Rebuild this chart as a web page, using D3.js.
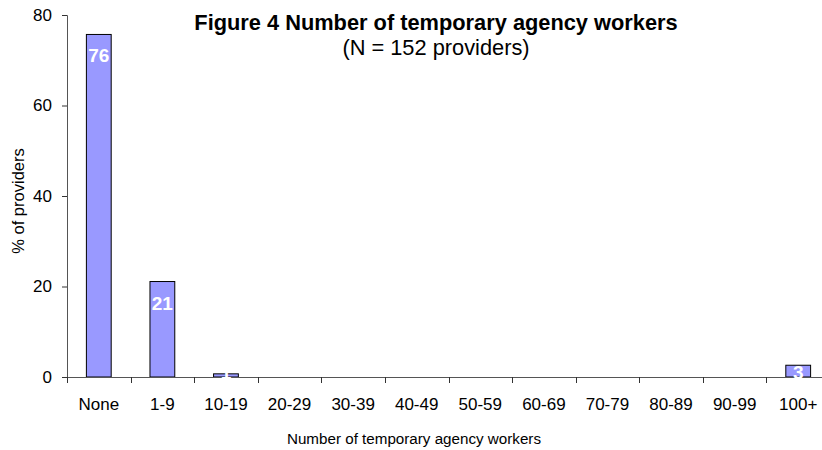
<!DOCTYPE html>
<html><head><meta charset="utf-8">
<script src="https://cdn.jsdelivr.net/npm/d3@7"></script>
<style>body{margin:0;background:#fff}svg{display:block;font-family:"Liberation Sans",Arial,sans-serif}</style>
</head><body><svg id="c" width="822" height="450"></svg>
<script>
const categories = ["None","1-9","10-19","20-29","30-39","40-49","50-59","60-69","70-79","80-89","90-99","100+"];
const values = [75.7, 21.1, 0.7, 0, 0, 0, 0, 0, 0, 0, 0, 2.6];
const labels = ["76","21","1","","","","","","","","","3"];
const yTicks = [0,20,40,60,80];

const svg = d3.select("#c");
const x = d3.scaleBand().domain(categories).range([67, 830]).paddingInner(0.61).paddingOuter(0.305);
const y = d3.scaleLinear().domain([0,80]).range([377,15]);

// bars
svg.append("g").selectAll("rect").data(values).join("rect")
  .attr("x",(d,i)=>x(categories[i]))
  .attr("width",x.bandwidth())
  .attr("y",d=>y(d))
  .attr("height",d=>y(0)-y(d))
  .attr("fill", d=> d>0 ? "#9999FF" : "none")
  .attr("stroke", d=> d>0 ? "#000" : "none")
  .attr("stroke-width",1);

// y axis
const ya = svg.append("g").attr("transform","translate(67,0)")
  .call(d3.axisLeft(y).tickValues(yTicks).tickSize(5).tickPadding(10).tickFormat(d3.format("d")));
ya.select(".domain").attr("stroke","#555");
ya.selectAll(".tick line").attr("stroke","#333");
ya.selectAll("text").attr("font-size",17).attr("fill","#000").attr("font-family","Liberation Sans, Arial, sans-serif");

// x axis: ticks at band boundaries
const step = x.step();
const bounds = categories.map((c,i)=>67 + i*step);
const xa = svg.append("g");
xa.append("line").attr("x1",67).attr("x2",830).attr("y1",377.5).attr("y2",377.5).attr("stroke","#555");
xa.selectAll("line.t").data(bounds).join("line").attr("class","t")
  .attr("x1",d=>Math.round(d)+0.5).attr("x2",d=>Math.round(d)+0.5).attr("y1",377).attr("y2",383).attr("stroke","#333");
xa.selectAll("text").data(categories).join("text")
  .attr("x",d=>x(d)+x.bandwidth()/2).attr("y",410)
  .attr("text-anchor","middle").attr("font-size",17).text(d=>d);

// value labels
svg.append("g").selectAll("text").data(values).join("text")
  .attr("x",(d,i)=>x(categories[i])+x.bandwidth()/2)
  .attr("y",d=>Math.min(y(d)+28, 379))
  .attr("text-anchor","middle").attr("font-size",19).attr("font-weight","bold").attr("fill","#fff")
  .text((d,i)=>labels[i]);

// titles
svg.append("text").attr("x",436).attr("y",30).attr("text-anchor","middle").attr("font-size",21.8).attr("font-weight","bold")
  .text("Figure 4 Number of temporary agency workers");
svg.append("text").attr("x",436).attr("y",55).attr("text-anchor","middle").attr("font-size",21.8)
  .text("(N = 152 providers)");
svg.append("text").attr("transform","translate(24,201) rotate(-90)").attr("text-anchor","middle").attr("font-size",16.5)
  .text("% of providers");
svg.append("text").attr("x",414).attr("y",444).attr("text-anchor","middle").attr("font-size",15.2)
  .text("Number of temporary agency workers");
</script></body></html>
